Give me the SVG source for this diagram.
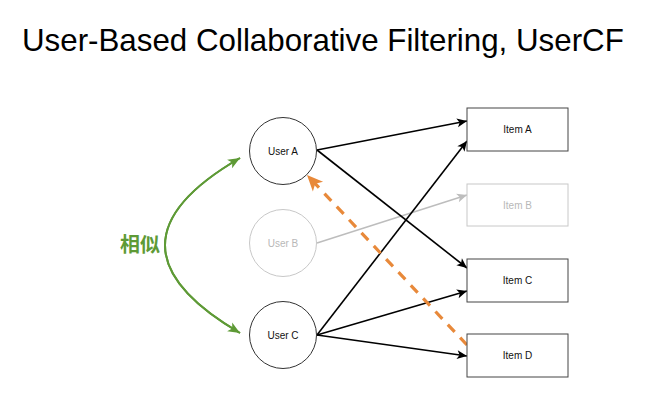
<svg xmlns="http://www.w3.org/2000/svg" width="650" height="412" viewBox="0 0 650 412">
<style>
.title{font-family:"Liberation Sans",Arial,sans-serif;font-size:31.3px;fill:#000}
.lbl{font-family:"Liberation Sans",Arial,sans-serif;font-size:10px;fill:#111;text-anchor:middle;dominant-baseline:central}
.user{fill:#fff;stroke:#333;stroke-width:1}
.item{fill:#fff;stroke:#444;stroke-width:1}
.faded{stroke:#c8c8c8}
.fadedt{fill:#b8b8b8}
.edge{fill:none;stroke:#000;stroke-width:1.6}
.edgeg{fill:none;stroke:#bdbdbd;stroke-width:1.6}
.rec{fill:none;stroke:#e8893a;stroke-width:3.2;stroke-dasharray:10,8}
.sim{fill:none;stroke:#5e9a36;stroke-width:2}
.simt{font-family:"Noto Sans CJK SC","Noto Sans CJK JP",sans-serif;font-size:20px;font-weight:bold;fill:#5e9a36;text-anchor:middle;dominant-baseline:central}
</style>
<defs>
<marker id="ab" markerUnits="userSpaceOnUse" markerWidth="12" markerHeight="12" viewBox="0 0 12 12" refX="11" refY="6" orient="auto"><path d="M1,1.5 L11,6 L1,10.5 L3.5,6 Z" fill="#000"/></marker>
<marker id="ag" markerUnits="userSpaceOnUse" markerWidth="12" markerHeight="12" viewBox="0 0 12 12" refX="11" refY="6" orient="auto"><path d="M1,1.5 L11,6 L1,10.5 L3.5,6 Z" fill="#bdbdbd"/></marker>
<marker id="ao" markerUnits="userSpaceOnUse" markerWidth="18" markerHeight="18" viewBox="0 0 18 18" refX="17" refY="9" orient="auto"><path d="M1,2 L17,9 L1,16 L5,9 Z" fill="#e8893a"/></marker>
<marker id="agr" markerUnits="userSpaceOnUse" markerWidth="14" markerHeight="14" viewBox="0 0 14 14" refX="13" refY="7" orient="auto"><path d="M1,2 L13,7 L1,12 L4,7 Z" fill="#5e9a36"/></marker>
</defs>
<text class="title" x="22" y="51">User-Based Collaborative Filtering, UserCF</text>
<g id="connectors">
<line class="edgeg" x1="317" y1="243" x2="467" y2="195" marker-end="url(#ag)"/>
<line class="edge" x1="317" y1="150" x2="467" y2="121" marker-end="url(#ab)"/>
<line class="edge" x1="317" y1="150" x2="467" y2="268" marker-end="url(#ab)"/>
<line class="edge" x1="317" y1="335" x2="467" y2="141" marker-end="url(#ab)"/>
<line class="edge" x1="317" y1="335" x2="467" y2="291" marker-end="url(#ab)"/>
<line class="edge" x1="317" y1="335" x2="467" y2="356" marker-end="url(#ab)"/>
<line class="rec" x1="467" y1="345" x2="307" y2="175" marker-end="url(#ao)"/>
<path class="sim" d="M240,333 Q90,245 240,158" marker-end="url(#agr)"/>
<path class="sim" d="M240,158 Q90,245 240,333" marker-end="url(#agr)"/>
</g>
<g id="userA"><circle class="user" cx="283" cy="151" r="33.5"/><text class="lbl" x="283" y="151">User A</text></g>
<g id="userB"><circle class="user faded" cx="283" cy="243" r="33.5"/><text class="lbl fadedt" x="283" y="243">User B</text></g>
<g id="userC"><circle class="user" cx="283" cy="335" r="33.5"/><text class="lbl" x="283" y="335">User C</text></g>
<g id="itemA"><rect class="item" x="467" y="108" width="101" height="43"/><text class="lbl" x="517.5" y="129.5">Item A</text></g>
<g id="itemB"><rect class="item faded" x="467" y="184" width="101" height="42"/><text class="lbl fadedt" x="517.5" y="205">Item B</text></g>
<g id="itemC"><rect class="item" x="467" y="259" width="101" height="43"/><text class="lbl" x="517.5" y="280.5">Item C</text></g>
<g id="itemD"><rect class="item" x="467" y="334" width="101" height="43"/><text class="lbl" x="517.5" y="355.5">Item D</text></g>
<g id="similar"><text class="simt" x="140" y="243">相似</text></g>
</svg>
